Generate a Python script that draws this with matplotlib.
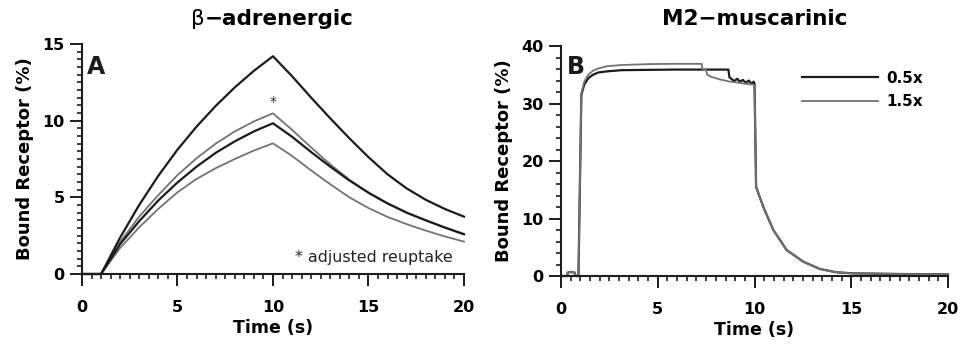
import numpy as np
import matplotlib.pyplot as plt
from matplotlib.ticker import MultipleLocator

plt.rcParams['font.family'] = ['DejaVu Sans']

# --- A: beta-adrenergic binding curves ---
t_a = [0, 1, 2, 3, 4, 5, 6, 7, 8, 9, 10, 11, 12, 13, 14, 15, 16, 17, 18, 19, 20]
beta_hi = [0, 0, 2.38, 4.51, 6.41, 8.11, 9.61, 10.96, 12.17, 13.25, 14.2,
           12.9, 11.5, 10.15, 8.85, 7.62, 6.5, 5.58, 4.84, 4.24, 3.74]
beta_adj = [0, 0, 2.1, 3.75, 5.15, 6.45, 7.55, 8.5, 9.3, 9.95, 10.48,
            9.4, 8.25, 7.15, 6.15, 5.3, 4.6, 4.0, 3.5, 3.02, 2.57]
beta_mid = [0, 0, 1.95, 3.45, 4.8, 5.97, 7.0, 7.9, 8.65, 9.3, 9.83,
            8.95, 7.95, 7.0, 6.1, 5.3, 4.6, 4.0, 3.5, 3.03, 2.6]
beta_lo = [0, 0, 1.7, 3.05, 4.25, 5.33, 6.2, 6.9, 7.5, 8.05, 8.52,
           7.7, 6.75, 5.85, 5.0, 4.3, 3.72, 3.25, 2.83, 2.45, 2.11]

# --- B: M2-muscarinic binding curves ---
t_b_05 = [0, 0.3, 0.35, 0.5, 0.7, 0.75, 0.9, 1.05, 1.2, 1.41, 1.65, 1.93, 2.4,
          3.14, 4.5, 5.9, 7.27, 8.65, 8.7, 8.8, 8.95, 9.1, 9.25, 9.4, 9.55,
          9.7, 9.85, 9.95, 10.0, 10.08, 10.45, 10.97, 11.66, 12.52, 13.38,
          14.25, 15.1, 17.5, 20]
m2_05 = [0, 0, 0.6, 0.7, 0.6, 0, 0, 31.5, 33.3, 34.4, 35.0, 35.4, 35.6,
         35.8, 35.85, 35.9, 35.9, 35.9, 34.6, 34.3, 33.9, 34.3, 33.8, 34.1, 33.6,
         34.0, 33.4, 33.8, 33.5, 15.5, 12.05, 8.0, 4.52, 2.49, 1.22,
         0.64, 0.46, 0.35, 0.29]
t_b_15 = [0, 0.3, 0.35, 0.5, 0.7, 0.75, 0.9, 1.05, 1.2, 1.41, 1.65, 1.93, 2.4,
          3.14, 4.5, 5.9, 7.27, 7.3, 7.5, 7.55, 7.8, 8.2, 8.73, 9.2, 9.6,
          9.95, 10.0, 10.08, 10.45, 10.97, 11.66, 12.52, 13.38,
          14.25, 15.1, 17.5, 20]
m2_15 = [0, 0, 0.6, 0.7, 0.6, 0, 0, 31.8, 33.8, 35.0, 35.7, 36.1, 36.5,
         36.7, 36.85, 36.9, 36.9, 35.9, 35.9, 35.0, 34.6, 34.2, 33.8, 33.6, 33.4,
         33.3, 33.2, 15.5, 12.05, 8.0, 4.52, 2.49, 1.22,
         0.64, 0.46, 0.35, 0.29]

BLACK = '#1c1c1c'
GRAY = '#737373'

fig = plt.figure(figsize=(9.61, 3.47), dpi=100)
ax1 = fig.add_axes([0.0853, 0.2104, 0.3975, 0.6628])
ax2 = fig.add_axes([0.5838, 0.2046, 0.4027, 0.6628])


def style_axis(ax, ymax, ymajor, yminor):
    for s in ['top', 'right']:
        ax.spines[s].set_visible(False)
    for s in ['left', 'bottom']:
        ax.spines[s].set_linewidth(1.5)
        ax.spines[s].set_color(BLACK)
    ax.set_xlim(0, 20)
    ax.set_ylim(0, ymax)
    ax.xaxis.set_major_locator(MultipleLocator(5))
    ax.xaxis.set_minor_locator(MultipleLocator(0.5))
    ax.yaxis.set_major_locator(MultipleLocator(ymajor))
    ax.yaxis.set_minor_locator(MultipleLocator(yminor))
    ax.tick_params(which='major', direction='out', length=8.5, width=1.4,
                   color=BLACK, labelsize=11.5)
    ax.tick_params(which='minor', direction='out', length=3.8, width=1.2,
                   color=BLACK)
    ax.tick_params(axis='x', which='major', pad=10)
    ax.tick_params(axis='y', which='major', pad=4)
    for lab in ax.get_xticklabels() + ax.get_yticklabels():
        lab.set_fontweight('bold')
    ax.set_xlabel('Time (s)', fontsize=12.5, fontweight='bold', labelpad=3)
    ax.set_ylabel('Bound Receptor (%)', fontsize=13, fontweight='bold',
                  labelpad=6)


style_axis(ax1, 15, 5, 0.5)
style_axis(ax2, 40, 10, 2)

# panel A lines
ax1.plot(t_a, beta_lo, color=GRAY, lw=1.3, clip_on=False)
ax1.plot(t_a, beta_adj, color=GRAY, lw=1.3, clip_on=False)
ax1.plot(t_a, beta_mid, color=BLACK, lw=1.6, clip_on=False)
ax1.plot(t_a, beta_hi, color=BLACK, lw=1.6, clip_on=False)
ax1.text(10, 11.2, '*', ha='center', va='center', fontsize=10, color='#333333')
ax1.text(19.4, 0.78, '* adjusted reuptake', ha='right', va='baseline',
         fontsize=11.4, color='#222222')
ax1.text(0.25, 13.5, 'A', fontsize=17, fontweight='bold', color=BLACK,
         va='center', ha='left')

# panel B lines
ln05, = ax2.plot(t_b_05, m2_05, color=BLACK, lw=1.6, label='0.5x', clip_on=False)
ln15, = ax2.plot(t_b_15, m2_15, color=GRAY, lw=1.3, label='1.5x', clip_on=False)
ax2.text(0.3, 36.4, 'B', fontsize=17, fontweight='bold', color=BLACK,
         va='center', ha='left')
leg = ax2.legend(handles=[ln05, ln15], loc='upper left',
                 bbox_to_anchor=(0.587, 0.952), frameon=False, handlelength=5.0,
                 handletextpad=0.5, labelspacing=0.55,
                 prop={'weight': 'bold', 'size': 11})

# titles
fig.text(0.213, 0.928, 'β', fontsize=15.5, ha='right', va='baseline')
fig.text(0.213, 0.928, '−adrenergic', fontsize=15.5, fontweight='bold',
         ha='left', va='baseline')
fig.text(0.785, 0.928, 'M2−muscarinic', fontsize=15.5, fontweight='bold',
         ha='center', va='baseline')

fig.savefig('out.png', dpi=100)
